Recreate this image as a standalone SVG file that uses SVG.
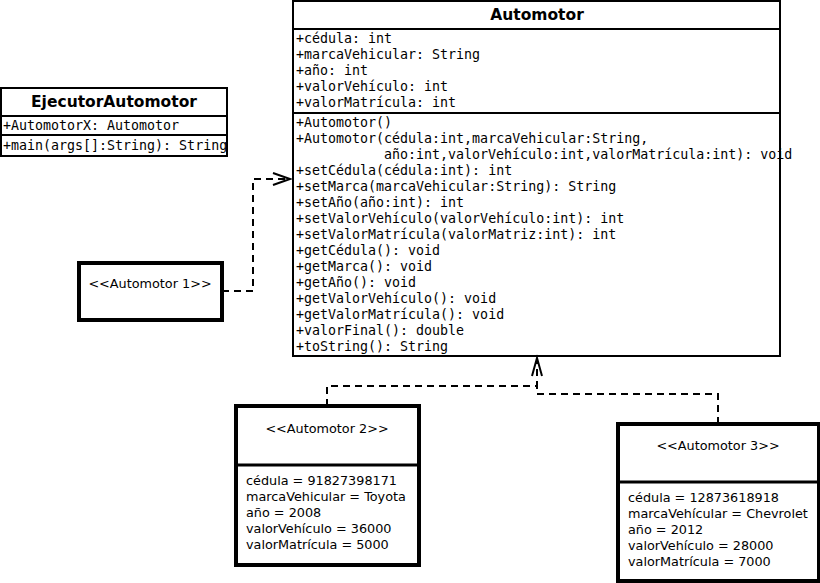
<svg xmlns="http://www.w3.org/2000/svg" width="820" height="583" viewBox="0 0 820 583">
<style>
.box{fill:#fff;stroke:#000;stroke-width:2}
.thick{fill:#fff;stroke:#000;stroke-width:4}
.sep{stroke:#000;stroke-width:2}
.title{font-family:"DejaVu Sans",sans-serif;font-weight:bold;font-size:15.5px;text-anchor:middle}
.mono{font-family:"DejaVu Sans Mono",monospace;font-size:13.3px}
.sans{font-family:"DejaVu Sans",sans-serif;font-size:12.8px}
.mid{text-anchor:middle}
.dash{fill:none;stroke:#000;stroke-width:2;stroke-dasharray:7 5}
.head{fill:none;stroke:#000;stroke-width:2}
</style>
<rect width="820" height="583" fill="#fff"/>
<g id="Automotor">
<rect class="box" x="293" y="1" width="487" height="355"/>
<line class="sep" x1="293" y1="29" x2="780" y2="29"/>
<line class="sep" x1="293" y1="113" x2="780" y2="113"/>
<text class="title" x="537" y="20">Automotor</text>
<g class="mono">
<text x="296" y="43">+cédula: int</text>
<text x="296" y="59">+marcaVehicular: String</text>
<text x="296" y="75">+año: int</text>
<text x="296" y="91">+valorVehículo: int</text>
<text x="296" y="107">+valorMatrícula: int</text>
<text x="296" y="127">+Automotor()</text>
<text x="296" y="143">+Automotor(cédula:int,marcaVehicular:String,</text>
<text x="384" y="159">año:int,valorVehículo:int,valorMatrícula:int): void</text>
<text x="296" y="175">+setCédula(cédula:int): int</text>
<text x="296" y="191">+setMarca(marcaVehicular:String): String</text>
<text x="296" y="207">+setAño(año:int): int</text>
<text x="296" y="223">+setValorVehículo(valorVehículo:int): int</text>
<text x="296" y="239">+setValorMatrícula(valorMatriz:int): int</text>
<text x="296" y="255">+getCédula(): void</text>
<text x="296" y="271">+getMarca(): void</text>
<text x="296" y="287">+getAño(): void</text>
<text x="296" y="303">+getValorVehículo(): void</text>
<text x="296" y="319">+getValorMatrícula(): void</text>
<text x="296" y="335">+valorFinal(): double</text>
<text x="296" y="351">+toString(): String</text>
</g>
</g>
<g id="EjecutorAutomotor">
<rect class="box" x="1" y="88" width="226" height="68"/>
<line class="sep" x1="1" y1="116" x2="227" y2="116"/>
<line class="sep" x1="1" y1="135" x2="227" y2="135"/>
<text class="title" x="114" y="107">EjecutorAutomotor</text>
<text class="mono" x="3" y="130">+AutomotorX: Automotor</text>
<text class="mono" x="3" y="150">+main(args[]:String): String</text>
</g>
<g id="Automotor1">
<rect class="thick" x="79" y="263" width="143" height="57"/>
<text class="sans mid" x="150" y="288">&lt;&lt;Automotor 1&gt;&gt;</text>
</g>
<g id="Automotor2">
<rect class="thick" x="236" y="406" width="183" height="159"/>
<line class="sep" x1="236" y1="465" x2="419" y2="465" style="stroke-width:3"/>
<text class="sans mid" x="327" y="433">&lt;&lt;Automotor 2&gt;&gt;</text>
<g class="sans">
<text x="246" y="485">cédula = 91827398171</text>
<text x="246" y="501">marcaVehicular = Toyota</text>
<text x="246" y="517">año = 2008</text>
<text x="246" y="533">valorVehículo = 36000</text>
<text x="246" y="549">valorMatrícula = 5000</text>
</g>
</g>
<g id="Automotor3">
<rect class="thick" x="618" y="424" width="201" height="157"/>
<line class="sep" x1="618" y1="482" x2="819" y2="482" style="stroke-width:3"/>
<text class="sans mid" x="718" y="450">&lt;&lt;Automotor 3&gt;&gt;</text>
<g class="sans">
<text x="628" y="502">cédula = 12873618918</text>
<text x="628" y="518">marcaVehícular = Chevrolet</text>
<text x="628" y="534">año = 2012</text>
<text x="628" y="550">valorVehículo = 28000</text>
<text x="628" y="566">valorMatrícula = 7000</text>
</g>
</g>
<g id="connectors">
<polyline class="dash" points="222,291 253,291 253,179 288,179"/>
<polyline class="head" points="273,173 290,179 273,185"/>
<polyline class="dash" points="327,406 327,386 537,386 537,360"/>
<polyline class="dash" points="718,424 718,394 537,394 537,386"/>
<polyline class="head" points="532,376 537,358 542,376"/>
</g>
</svg>
